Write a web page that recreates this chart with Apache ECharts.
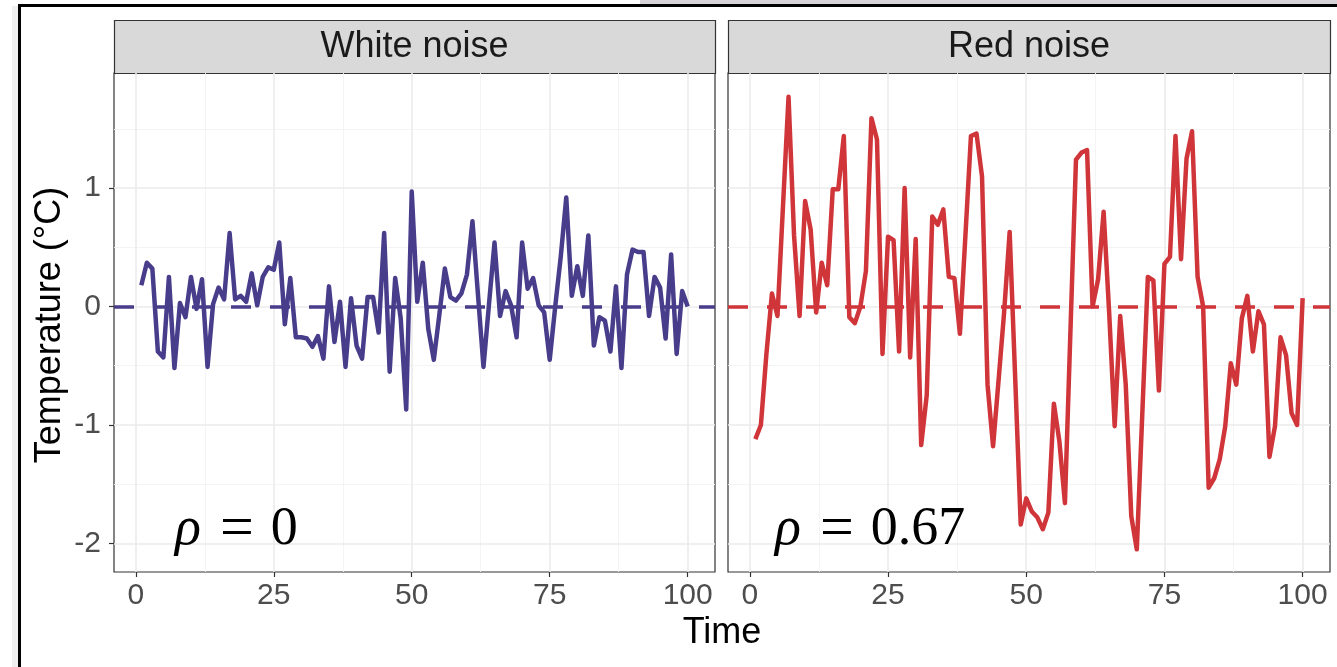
<!DOCTYPE html>
<html>
<head>
<meta charset="utf-8">
<style>
  html, body { margin: 0; padding: 0; background: #fff; }
  #chart { width: 1337px; height: 667px; }
</style>
<script src="https://cdn.jsdelivr.net/npm/echarts@6.0.0/dist/echarts.min.js"></script>
</head>
<body>
<div id="chart"></div>
<script>
// time index
var time = [1,2,3,4,5,6,7,8,9,10,11,12,13,14,15,16,17,18,19,20,
  21,22,23,24,25,26,27,28,29,30,31,32,33,34,35,36,37,38,39,40,
  41,42,43,44,45,46,47,48,49,50,51,52,53,54,55,56,57,58,59,60,
  61,62,63,64,65,66,67,68,69,70,71,72,73,74,75,76,77,78,79,80,
  81,82,83,84,85,86,87,88,89,90,91,92,93,94,95,96,97,98,99,100];

// White noise (rho = 0)
var whiteNoise = [0.18,0.37,0.32,-0.38,-0.43,0.25,-0.52,0.03,-0.09,0.25,
  -0.02,0.23,-0.51,0.02,0.16,0.06,0.62,0.06,0.09,0.04,
  0.28,0.01,0.25,0.33,0.31,0.54,-0.15,0.24,-0.26,-0.26,
  -0.27,-0.34,-0.25,-0.44,0.17,-0.30,0.04,-0.51,0.07,-0.33,
  -0.44,0.08,0.08,-0.22,0.62,-0.55,0.24,-0.10,-0.87,0.97,
  0.04,0.37,-0.19,-0.45,-0.07,0.32,0.08,0.05,0.11,0.27,
  0.72,0.10,-0.51,0.02,0.54,-0.08,0.13,0.01,-0.26,0.54,
  0.15,0.24,0.01,-0.05,-0.45,0.00,0.42,0.92,0.09,0.34,
  0.09,0.60,-0.33,-0.09,-0.12,-0.38,0.17,-0.52,0.27,0.48,
  0.46,0.46,-0.08,0.25,0.16,-0.27,0.44,-0.40,0.13,0.00];

// Red noise (rho = 0.67)
var redNoise = [-1.12,-1.00,-0.40,0.11,-0.08,0.85,1.77,0.60,-0.08,0.89,
  0.65,-0.05,0.37,0.18,0.99,0.99,1.44,-0.09,-0.14,0.00,
  0.30,1.59,1.41,-0.40,0.59,0.56,-0.38,1.00,-0.43,0.57,
  -1.17,-0.75,0.76,0.69,0.82,0.25,0.24,-0.23,0.60,1.44,
  1.46,1.10,-0.66,-1.18,-0.62,-0.05,0.63,-0.60,-1.84,-1.62,
  -1.73,-1.78,-1.88,-1.74,-0.82,-1.14,-1.66,-0.20,1.24,1.30,
  1.32,0.00,0.23,0.80,-0.05,-1.01,-0.08,-0.66,-1.77,-2.05,
  -0.90,0.25,0.22,-0.71,0.36,0.42,1.44,0.40,1.25,1.48,
  0.25,0.00,-1.53,-1.45,-1.29,-1.01,-0.48,-0.66,-0.10,0.09,
  -0.38,-0.04,-0.15,-1.27,-1.01,-0.26,-0.41,-0.90,-1.00,0.07];

var xTicks = [0, 25, 50, 75, 100];
var xMinor = [12.5, 37.5, 62.5, 87.5];
var yTicks = [-2, -1, 0, 1];
var yMinor = [-1.5, -0.5, 0.5, 1.5];
var panelTitles = ['White noise', 'Red noise'];
var rhoLabels = ['0', '0.67'];

var xRange = [-3.95, 104.95];
var yRange = [-2.2415, 1.9715];

var sans = 'Liberation Sans, Arial, sans-serif';
var serif = 'Liberation Serif, serif';
var lineColors = ['#483D8B', '#D0353A'];
var gridPos = [{ left: 114, width: 601, rho: 61 }, { left: 728, width: 602, rho: 47 }];

var myChart = echarts.init(document.getElementById('chart'));

var grids = [], xAxes = [], yAxes = [], series = [], graphics = [];

// frame of the screenshot
graphics.push({ type: 'rect', shape: { x: 640, y: 0, width: 697, height: 4 }, style: { fill: '#D6D2D6' } });
graphics.push({ type: 'rect', shape: { x: 12, y: 6, width: 6, height: 661 }, style: { fill: '#EFEFEF' } });
graphics.push({ type: 'rect', shape: { x: 19.5, y: 5.5, width: 1340, height: 700 }, style: { fill: 'none', stroke: '#000', lineWidth: 3 } });

[whiteNoise, redNoise].forEach(function (vals, k) {
  grids.push({
    left: gridPos[k].left, top: 73, width: gridPos[k].width, height: 499,
    show: true, backgroundColor: '#fff', borderColor: '#333', borderWidth: 1.2
  });

  // major x axis
  xAxes.push({
    type: 'value', gridIndex: k, min: xRange[0], max: xRange[1], position: 'bottom',
    axisLine: { show: false, onZero: false },
    axisTick: { show: true, length: 5, customValues: xTicks, lineStyle: { color: '#333', width: 1.2 } },
    axisLabel: { customValues: xTicks, color: '#4D4D4D', fontSize: 30, fontFamily: sans, margin: 9 },
    splitLine: { show: true, lineStyle: { color: '#EBEBEB', width: 1.6 } },
    z: 3
  });
  // minor x grid
  xAxes.push({
    type: 'value', gridIndex: k, min: xRange[0], max: xRange[1], position: 'bottom',
    axisLine: { show: false, onZero: false },
    axisTick: { show: false, customValues: xMinor },
    axisLabel: { show: false, customValues: xMinor },
    splitLine: { show: true, lineStyle: { color: '#F3F3F3', width: 0.9 } },
    z: 2
  });

  yAxes.push({
    type: 'value', gridIndex: k, min: yRange[0], max: yRange[1], position: 'left',
    axisLine: { show: false, onZero: false },
    axisTick: { show: k === 0, length: 5, customValues: yTicks, lineStyle: { color: '#333', width: 1.2 } },
    axisLabel: { show: k === 0, customValues: yTicks, color: '#4D4D4D', fontSize: 30, fontFamily: sans, margin: 13 },
    splitLine: { show: true, lineStyle: { color: '#EBEBEB', width: 1.6 } },
    z: 3
  });
  yAxes.push({
    type: 'value', gridIndex: k, min: yRange[0], max: yRange[1], position: 'left',
    axisLine: { show: false, onZero: false },
    axisTick: { show: false, customValues: yMinor },
    axisLabel: { show: false, customValues: yMinor },
    splitLine: { show: true, lineStyle: { color: '#F3F3F3', width: 0.9 } },
    z: 2
  });

  series.push({
    name: panelTitles[k],
    type: 'line',
    xAxisIndex: 2 * k,
    yAxisIndex: 2 * k,
    data: time.map(function (t, i) { return [t, vals[i]]; }),
    showSymbol: false,
    symbol: 'none',
    lineStyle: { color: lineColors[k], width: 4.5, join: 'round' },
    markLine: {
      silent: true,
      symbol: 'none',
      label: { show: false },
      lineStyle: { color: lineColors[k], width: 3.5, type: [20, 19] },
      data: [{ yAxis: 0 }]
    },
    z: 5
  });

  // facet strip
  var sx = gridPos[k].left, sw = gridPos[k].width;
  graphics.push({
    type: 'rect', shape: { x: sx + 0.5, y: 20.5, width: sw, height: 53 },
    style: { fill: '#D9D9D9', stroke: '#333', lineWidth: 1.2 }
  });
  graphics.push({
    type: 'text', x: sx + sw / 2, y: 47,
    style: { text: panelTitles[k], fill: '#1A1A1A', font: '36px ' + sans, textAlign: 'center', textVerticalAlign: 'middle' }
  });

  // rho annotation
  graphics.push({
    type: 'text', x: sx + gridPos[k].rho, y: 530, z: 10,
    style: {
      text: '{i|\u03c1}{e|=}{n|' + rhoLabels[k] + '}',
      rich: {
        i: { fontStyle: 'italic', fontFamily: serif, fontSize: 54, fill: '#000' },
        e: { fontFamily: serif, fontSize: 60, fill: '#000', padding: [0, 17, 0, 19] },
        n: { fontFamily: serif, fontSize: 54, fill: '#000' }
      },
      fill: '#000', font: '54px ' + serif,
      textAlign: 'left', textVerticalAlign: 'middle'
    }
  });
});

// axis titles
graphics.push({
  type: 'text', x: 722, y: 633,
  style: { text: 'Time', fill: '#000', font: '36px ' + sans, textAlign: 'center', textVerticalAlign: 'middle' }
});
graphics.push({
  type: 'text', x: 50, y: 325, rotation: Math.PI / 2,
  style: { text: 'Temperature (\u00b0C)', fill: '#000', font: '36px ' + sans, textAlign: 'center', textVerticalAlign: 'middle' }
});

var option = {
  backgroundColor: '#fff',
  animation: false,
  grid: grids,
  xAxis: xAxes,
  yAxis: yAxes,
  series: series,
  graphic: graphics
};

myChart.setOption(option);
</script>
</body>
</html>
